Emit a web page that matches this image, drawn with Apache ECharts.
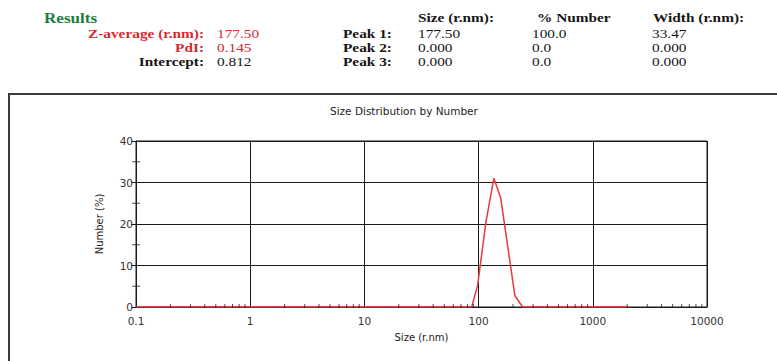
<!DOCTYPE html>
<html>
<head>
<meta charset="utf-8">
<script src="https://cdn.jsdelivr.net/npm/echarts@6/dist/echarts.min.js"></script>
<style>
  html, body { margin: 0; padding: 0; background: #fff; }
  #chart { width: 777px; height: 361px; }
</style>
</head>
<body>
<div id="chart"></div>
<script>
// Size distribution by number (radius, nm) and percentage in each size class
const sizes = [0.1, 87, 98, 116, 136, 156, 208, 243, 2100];
const numberPct = [0, 0, 5.2, 20.5, 31.0, 26.3, 2.7, 0, 0];

// Axis ranges and ticks
const xMin = 0.1, xMax = 10000;
const yMin = 0, yMax = 40, yStep = 10;
const xMinorTicks = [];
[0.1, 1, 10, 100, 1000].forEach(d => {
  for (let k = 2; k <= 9; k++) xMinorTicks.push(+(d * k).toPrecision(6));
});
const yMinorTicks = [5, 15, 25, 35];

// Results summary table
const summaryLabels = ['Z-average (r.nm):', 'PdI:', 'Intercept:'];
const summaryValues = ['177.50', '0.145', '0.812'];
const summaryRed = [true, true, false];
const peakNames = ['Peak 1:', 'Peak 2:', 'Peak 3:'];
const peakHeaders = ['Size (r.nm):', '% Number', 'Width (r.nm):'];
const peakSize = ['177.50', '0.000', '0.000'];
const peakNumber = ['100.0', '0.0', '0.0'];
const peakWidth = ['33.47', '0.000', '0.000'];

const serif = '"Liberation Serif", "Times New Roman", serif';
const sans = '"DejaVu Sans", "Liberation Sans", Arial, sans-serif';
const RED = '#d42a2f', GREEN = '#1f7d3e', INK = '#161616';
const SX = 1.18;

function txt(x, y, text, opt) {
  opt = opt || {};
  return {
    type: 'text', x: x, y: y, scaleX: SX, silent: true,
    style: {
      x: 0, y: 0, text: text,
      fill: opt.color || INK,
      font: (opt.bold ? 'bold ' : '') + (opt.size || 13) + 'px ' + serif,
      textAlign: opt.align || 'left',
      textVerticalAlign: 'middle'
    }
  };
}

const rowY = [33, 47, 61];
const graphics = [];
graphics.push(txt(44, 18, 'Results', { bold: true, color: GREEN, size: 14.5 }));
summaryLabels.forEach((l, i) => {
  graphics.push(txt(204, rowY[i], l, { bold: true, align: 'right', color: summaryRed[i] ? RED : INK }));
  graphics.push(txt(217, rowY[i], summaryValues[i], { color: summaryRed[i] ? RED : INK }));
});
const colX = [418, 537, 653];
const valX = [418, 532, 652];
peakHeaders.forEach((h, i) => graphics.push(txt(colX[i], 17, h, { bold: true })));
peakNames.forEach((p, i) => {
  graphics.push(txt(343, rowY[i], p, { bold: true }));
  graphics.push(txt(valX[0], rowY[i], peakSize[i]));
  graphics.push(txt(valX[1], rowY[i], peakNumber[i]));
  graphics.push(txt(valX[2], rowY[i], peakWidth[i]));
});
// outer frame around the plot panel
graphics.push({
  type: 'rect', silent: true, z: -1,
  shape: { x: 9, y: 94, width: 820, height: 320 },
  style: { fill: 'none', stroke: '#3a3a3a', lineWidth: 2 }
});

const chart = echarts.init(document.getElementById('chart'), null, { renderer: 'svg' });
chart.setOption({
  animation: false,
  backgroundColor: '#fff',
  title: {
    text: 'Size Distribution by Number',
    left: 325, top: 100,
    textStyle: { fontFamily: sans, fontSize: 10.5, fontWeight: 'normal', color: '#222' }
  },
  graphic: graphics,
  grid: {
    left: 136, right: 70, top: 141, bottom: 54,
    show: true, borderColor: '#1a1a1a', borderWidth: 1, backgroundColor: 'transparent'
  },
  xAxis: {
    type: 'log', logBase: 10, min: xMin, max: xMax,
    name: 'Size (r.nm)', nameLocation: 'middle', nameGap: 25,
    nameTextStyle: { fontFamily: sans, fontSize: 10, color: '#222' },
    axisLine: { lineStyle: { color: '#1a1a1a', width: 1 } },
    axisTick: { show: false },
    axisLabel: {
      fontFamily: sans, fontSize: 10.5, color: '#333', margin: 8,
      formatter: v => String(+(+v).toPrecision(6))
    },
    splitLine: { show: true, lineStyle: { color: '#1a1a1a', width: 1 } },
    minorTick: { show: false }
  },
  yAxis: {
    type: 'value', min: yMin, max: yMax, interval: yStep,
    name: 'Number (%)', nameLocation: 'middle', nameGap: 32,
    nameTextStyle: { fontFamily: sans, fontSize: 10, color: '#222' },
    axisLine: { show: true, lineStyle: { color: '#1a1a1a', width: 1 } },
    axisTick: { show: true, length: 5, lineStyle: { color: '#1a1a1a' } },
    axisLabel: { fontFamily: sans, fontSize: 10.5, color: '#333', margin: 3 },
    splitLine: { show: true, lineStyle: { color: '#1a1a1a', width: 1 } }
  },
  series: [
    {
      name: 'Number',
      type: 'line',
      data: sizes.map((s, i) => [s, numberPct[i]]),
      symbol: 'none',
      lineStyle: { color: '#e8393b', width: 1.5 },
      z: 3
    },
    {
      name: 'x minor ticks',
      type: 'scatter',
      data: xMinorTicks.map(v => [v, 0]),
      symbol: 'rect', symbolSize: [1, 4], symbolOffset: [0, -1],
      itemStyle: { color: '#222' },
      silent: true, z: 4
    },
    {
      name: 'y minor ticks',
      type: 'scatter',
      data: yMinorTicks.map(v => [xMin, v]),
      symbol: 'rect', symbolSize: [8, 1],
      itemStyle: { color: '#222' },
      silent: true, z: 4
    }
  ]
});
</script>
</body>
</html>
